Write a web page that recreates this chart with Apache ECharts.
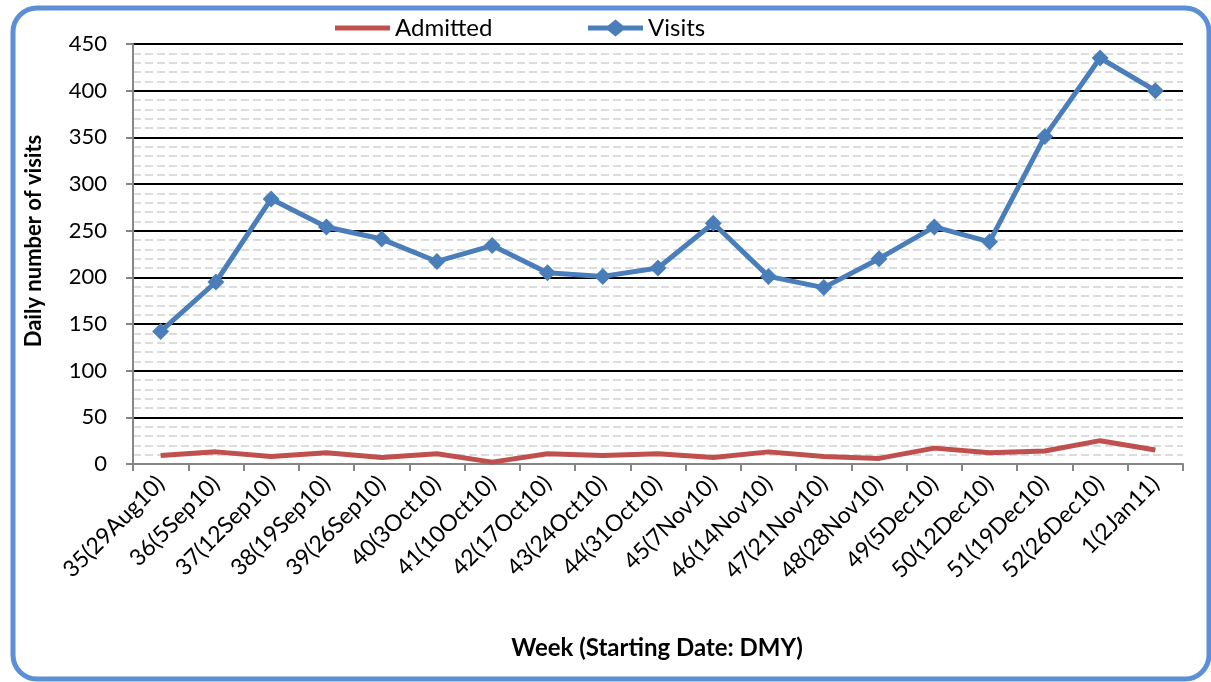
<!DOCTYPE html>
<html>
<head>
<meta charset="utf-8">
<script src="https://cdn.jsdelivr.net/npm/echarts@6/dist/echarts.min.js"></script>
<style>html,body{margin:0;padding:0;background:#fff}#c{width:1211px;height:682px}</style>
</head>
<body>
<div id="c"></div>
<script>
const weeks = ['35(29Aug10)','36(5Sep10)','37(12Sep10)','38(19Sep10)','39(26Sep10)','40(3Oct10)','41(10Oct10)','42(17Oct10)','43(24Oct10)','44(31Oct10)','45(7Nov10)','46(14Nov10)','47(21Nov10)','48(28Nov10)','49(5Dec10)','50(12Dec10)','51(19Dec10)','52(26Dec10)','1(2Jan11)'];
const admitted = [9,13,8,12,7,11,2,11,9,11,7,13,8,6,17,12,14,25,15];
const visits = [142,195,284,254,241,217,234,205,201,210,258,201,189,220,254,238,351,435,400];
const yTicks = {min:0, max:450, interval:50};

const FONT = 'Lato, "Open Sans", sans-serif';
const legendText = {fontSize:24, color:'#000', fontFamily:FONT};
const chart = echarts.init(document.getElementById('c'), null, {renderer:'canvas'});
chart.setOption({
  animation:false,
  backgroundColor:'#fff',
  textStyle:{fontFamily:FONT},
  legend:[
    {left:330, top:11, itemWidth:55, itemHeight:5, textStyle:legendText,
     data:[{name:'Admitted', icon:'rect'}]},
    {left:583, top:11, itemWidth:55, itemHeight:17, textStyle:legendText,
     data:[{name:'Visits', icon:'path://M0,6 L20,6 L27.5,0 L35,6 L55,6 L55,11 L35,11 L27.5,17 L20,11 L0,11 Z'}]}
  ],
  grid:{left:133, right:28, top:44, bottom:218},
  xAxis:{
    type:'category', data:weeks, boundaryGap:true,
    axisLine:{lineStyle:{color:'#868686', width:2}},
    axisTick:{show:true, length:7, interval:0, lineStyle:{color:'#868686', width:2}},
    axisLabel:{rotate:45, interval:0, fontSize:23, color:'#000', margin:16, fontFamily:FONT},
    splitLine:{show:false}
  },
  yAxis:{
    type:'value', min:yTicks.min, max:yTicks.max, interval:yTicks.interval,
    axisLine:{show:true, lineStyle:{color:'#868686', width:2}},
    axisTick:{show:true, length:7, lineStyle:{color:'#868686', width:2}},
    axisLabel:{fontSize:22, color:'#000', margin:26, fontFamily:FONT},
    splitLine:{show:true, lineStyle:{color:'#000', width:2}},
    minorTick:{show:false, splitNumber:5},
    minorSplitLine:{show:true, lineStyle:{color:'#dcdcdc', width:2, type:[8,4]}}
  },
  series:[
    {name:'Admitted', type:'line', data:admitted, showSymbol:false, symbol:'none',
     lineStyle:{color:'#c0504d', width:5, join:'round'}, itemStyle:{color:'#c0504d'}, z:3},
    {name:'Visits', type:'line', data:visits, symbol:'diamond', symbolSize:17,
     lineStyle:{color:'#4a7ebb', width:5, join:'round'}, itemStyle:{color:'#4a7ebb'}, z:4}
  ],
  graphic:[
    {type:'rect', shape:{x:13, y:8, width:1196, height:671, r:24}, style:{fill:null, stroke:'#5b8fd6', lineWidth:5}, silent:true, z:100},
    {type:'text', x:34, y:241, rotation:Math.PI/2, style:{text:'Daily number of visits', fontSize:22, fontWeight:'bold', fill:'#000', fontFamily:FONT, align:'center', verticalAlign:'middle'}},
    {type:'text', x:657, y:648, style:{text:'Week (Starting Date: DMY)', fontSize:24, fontWeight:'bold', fill:'#000', fontFamily:FONT, align:'center', verticalAlign:'middle'}}
  ]
});
</script>
</body>
</html>
